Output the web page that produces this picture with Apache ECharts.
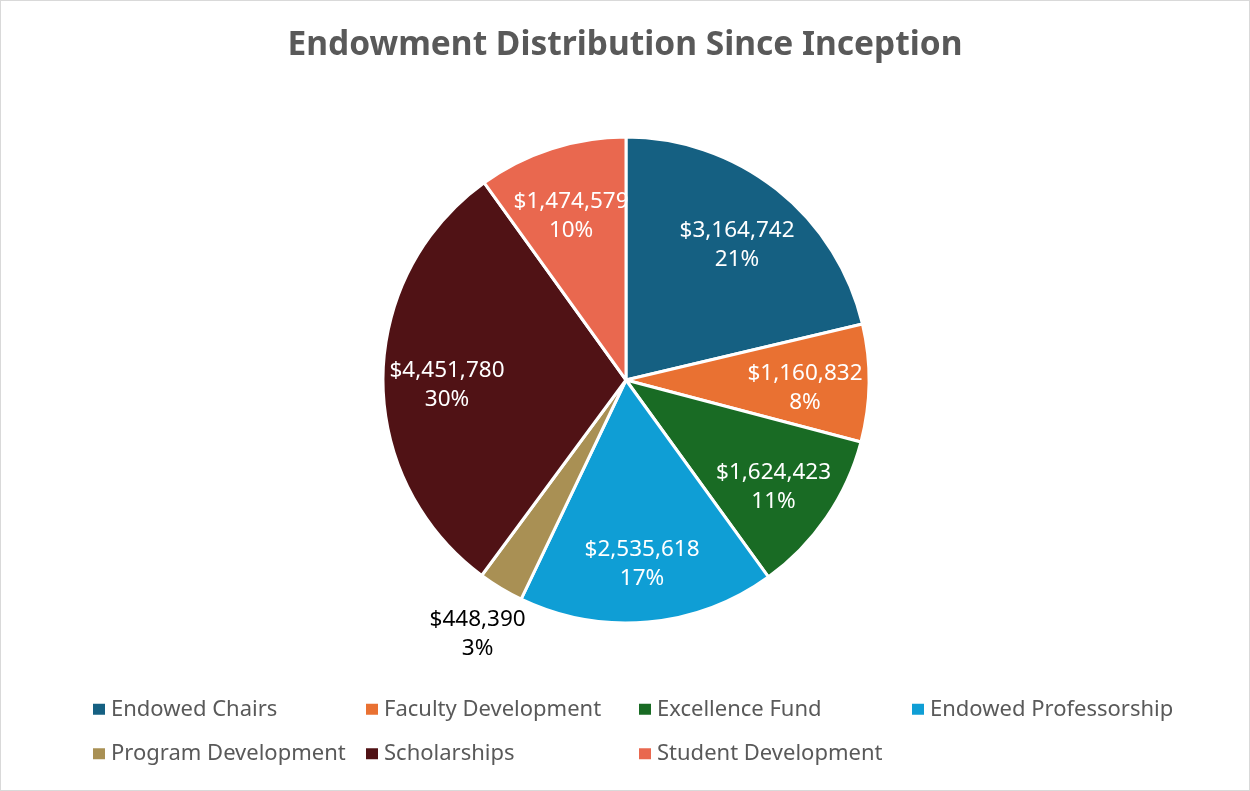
<!DOCTYPE html>
<html>
<head>
<meta charset="utf-8">
<script src="https://cdn.jsdelivr.net/npm/echarts@6/dist/echarts.min.js"></script>
<style>
html, body { margin: 0; padding: 0; background: #fff; }
#chart { width: 1250px; height: 791px; box-sizing: border-box; border: 1px solid #d9d9d9; }
</style>
</head>
<body>
<div id="chart"></div>
<script>
// data
var categories = ['Endowed Chairs', 'Faculty Development', 'Excellence Fund', 'Endowed Professorship',
  'Program Development', 'Scholarships', 'Student Development']
var values = [3164742, 1160832, 1624423, 2535618, 448390, 4451780, 1474579]
var colors = ['#156082', '#e97132', '#196b24', '#0f9ed5', '#a99054', '#501215', '#e9684f']
// slices whose label sits outside the pie
var outsideLabel = [4]

var font = 'Noto Sans'
var center = [625, 379]

function fmt(p) {
  return '$' + p.value.toLocaleString('en-US') + '\n' + Math.round(p.percent) + '%'
}

var pieData = []
var innerData = []
var outerData = []
for (var i = 0; i < categories.length; i++) {
  var out = outsideLabel.indexOf(i) >= 0
  pieData.push({ name: categories[i], value: values[i], itemStyle: { color: colors[i] } })
  innerData.push({ name: categories[i], value: values[i], label: { show: !out } })
  outerData.push({ name: categories[i], value: values[i], label: { show: out } })
}

var chart = echarts.init(document.getElementById('chart'))

var option = {
  backgroundColor: '#fff',
  animation: false,
  title: {
    text: 'Endowment Distribution Since Inception',
    left: 'center',
    top: 22,
    textStyle: { fontFamily: font, fontSize: 33.5, fontWeight: 'bold', color: '#595959' }
  },
  legend: {
    data: categories,
    left: 90,
    top: 691,
    width: 1095,
    padding: 0,
    itemWidth: 14,
    itemHeight: 13,
    itemGap: 10,
    icon: 'rect',
    textStyle: { fontFamily: font, fontSize: 22, color: '#595959', width: 243, lineHeight: 34.5 }
  },
  series: [
    {
      name: 'pie',
      type: 'pie',
      center: center,
      radius: 243,
      startAngle: 90,
      clockwise: true,
      data: pieData,
      label: { show: false },
      labelLine: { show: false },
      itemStyle: { borderColor: '#fff', borderWidth: 3 },
      emphasis: { disabled: true }
    },
    {
      // labels inside the slices
      name: 'inner',
      type: 'pie',
      center: center,
      radius: [116, 236],
      silent: true,
      data: innerData,
      itemStyle: { color: 'rgba(0,0,0,0)' },
      label: {
        position: 'inside',
        formatter: fmt,
        offset: [0, 6],
        fontFamily: font,
        fontSize: 22.5,
        lineHeight: 29,
        color: '#fff'
      },
      labelLine: { show: false }
    },
    {
      // label just outside the small slice
      name: 'outer',
      type: 'pie',
      center: center,
      radius: [262, 320],
      silent: true,
      data: outerData,
      itemStyle: { color: 'rgba(0,0,0,0)' },
      label: {
        position: 'inside',
        formatter: fmt,
        offset: [3, 2],
        fontFamily: font,
        fontSize: 22.5,
        lineHeight: 29,
        color: '#000'
      },
      labelLine: { show: false }
    }
  ]
}
chart.setOption(option)
</script>
</body>
</html>
